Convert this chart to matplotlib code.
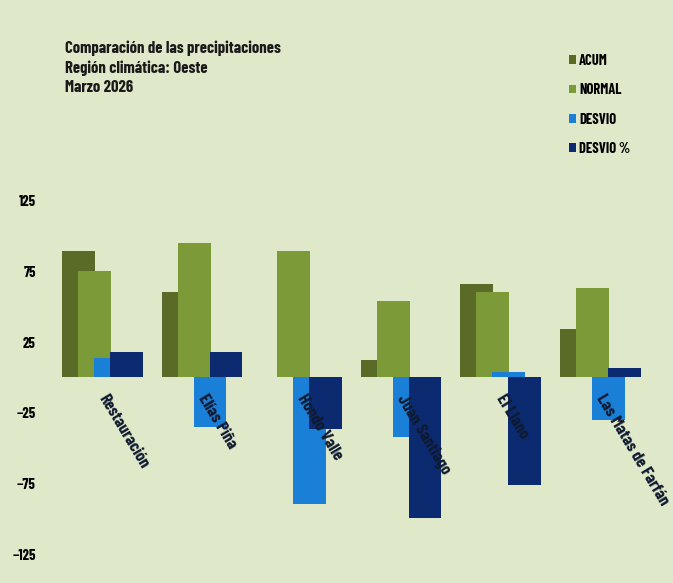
import matplotlib
matplotlib.use('Agg')
import matplotlib.pyplot as plt
import numpy as np
from matplotlib.patches import Patch

# Datos
estaciones = ['Restauración', 'Elías Piña', 'Hondo Valle', 'Juan Santiago',
              'El Llano', 'Las Matas de Farfán']
acum = [89, 60, 0, 12, 66, 34]
normal = [75, 95, 89, 54, 60, 63]
desvio = [14, -35, -89, -42, 4, -30]
desvio_pct = [18, 18, -36, -99, -76, 7]

series = ['ACUM', 'NORMAL', 'DESVIO', 'DESVIO %']
colores = ['#5a6b28', '#7c9a38', '#1a7fd6', '#0b2a70']
fondo = '#dfe8c8'

# fuente estrecha parecida a Arial Narrow
plt.rcParams['font.family'] = ['Barlow Condensed', 'DejaVu Sans']

fig = plt.figure(figsize=(6.73, 5.83), dpi=100, facecolor=fondo)
ax = fig.add_axes([0.074, 0.012, 0.914, 0.681])
ax.set_facecolor(fondo)

index = np.arange(len(estaciones))
ancho = 0.33
paso = 0.16
for k, (datos, c) in enumerate(zip([acum, normal, desvio, desvio_pct], colores)):
    ax.bar(index + (k - 1.5) * paso, datos, ancho, color=c, zorder=3 + k)

# etiquetas de estaciones (encima de las barras, casi ocultas en las oscuras)
for i, nombre in enumerate(estaciones):
    ax.text(i + 0.06, -10, nombre, rotation=-59, rotation_mode='anchor',
            ha='left', va='top', fontsize=12.5, fontweight='bold',
            color='#0f1a30', zorder=10)

ax.set_xlim(-0.53, 5.65)
ax.set_ylim(-140, 140)
ax.set_yticks([125, 75, 25, -25, -75, -125])
ax.tick_params(axis='y', length=0, pad=10, labelsize=10.5)
for t in ax.get_yticklabels():
    t.set_fontweight('bold')
ax.set_xticks([])
for s in ax.spines.values():
    s.set_visible(False)

fig.text(0.097, 0.93, 'Comparación de las precipitaciones\nRegión climática: Oeste\nMarzo 2026',
         ha='left', va='top', fontsize=12, fontweight='bold',
         color='#1a1a1a', linespacing=1.35)

handles = [Patch(facecolor=c, edgecolor='none') for c in colores]
leg = fig.legend(handles, series, loc='upper left', bbox_to_anchor=(0.826, 0.93),
                 frameon=False, handlelength=0.45, handleheight=0.55,
                 handletextpad=0.25, labelspacing=1.05,
                 prop={'weight': 'bold', 'size': 10.5})

fig.savefig('out.png', dpi=100, facecolor=fondo)
